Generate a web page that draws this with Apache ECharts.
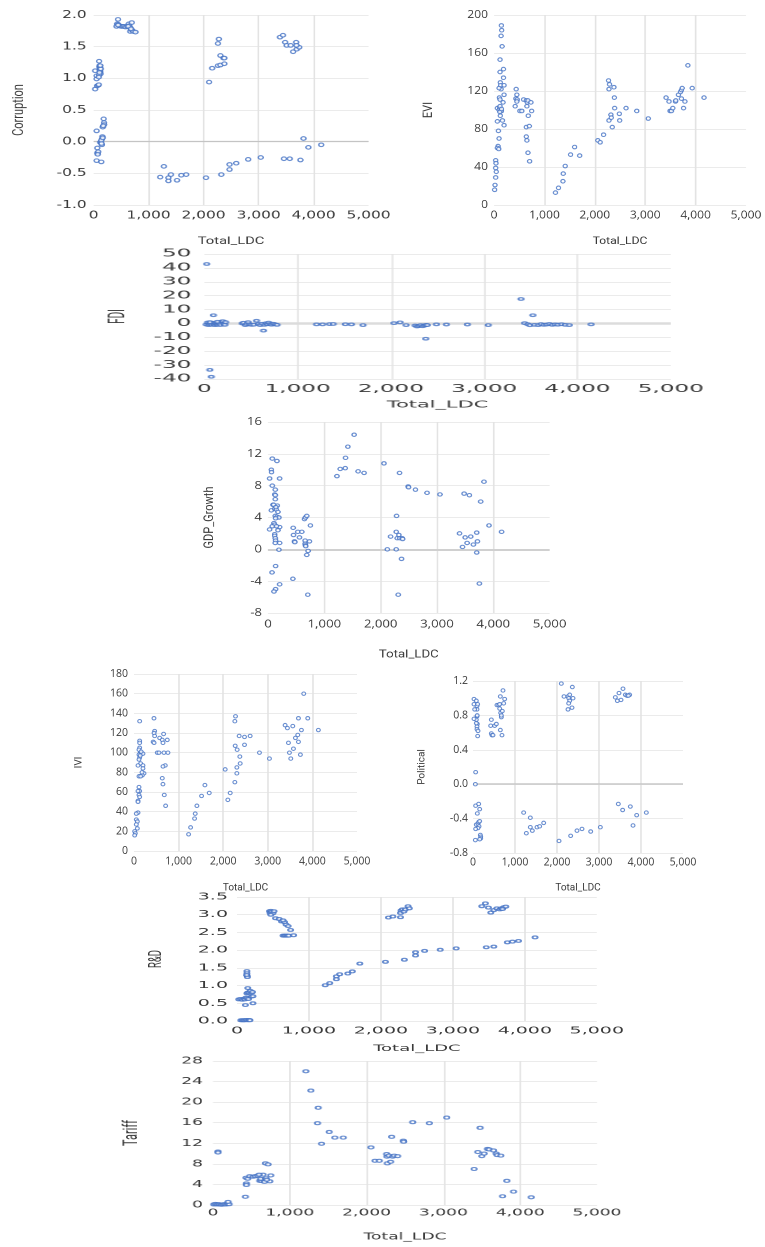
<!DOCTYPE html>
<html><head><meta charset="utf-8">
<script src="https://cdn.jsdelivr.net/npm/echarts@6/dist/echarts.min.js"></script>
<style>
html,body{margin:0;padding:0;background:#fff;width:765px;height:1247px;overflow:hidden;position:relative}
.panel{position:absolute;transform-origin:0 0}
</style></head><body>
<script>
// ---------- data: [Total_LDC, value] ----------
const corruptionData = [
[28,1.12],[28,0.83],[55,0.99],[55,1.04],[62,0.88],[83,0.89],[95,0.9],[100,1.27],[105,1.18],[110,1.15],[115,1.13],[120,1.1],[108,1.2],[125,1.07],[112,1.12],[118,1.16],[100,1.05],[130,1.15],[122,1.2],[106,1.09],[95,1.02],
[55,0.17],[183,0.36],[167,0.23],[190,0.3],[192,0.27],[160,0.08],[150,0.04],[120,-0.01],[150,-0.05],[135,-0.02],[140,0.02],[67,-0.1],[67,-0.18],[83,-0.16],[75,-0.2],[55,-0.3],[140,-0.32],[165,0.06],[175,0.25],[145,-0.03],
[444,1.93],[428,1.86],[417,1.82],[450,1.85],[470,1.83],[500,1.82],[528,1.82],[555,1.82],[580,1.81],[611,1.82],[639,1.86],[650,1.83],[694,1.88],[667,1.8],[667,1.74],[700,1.76],[722,1.74],[761,1.73],[630,1.82],[680,1.78],[445,1.84],
[2100,0.94],[2156,1.16],[2261,1.2],[2306,1.21],[2378,1.23],[2306,1.36],[2361,1.32],[2378,1.32],[2261,1.55],[2278,1.62],
[3389,1.65],[3444,1.68],[3483,1.57],[3511,1.52],[3583,1.52],[3628,1.42],[3683,1.57],[3694,1.46],[3739,1.49],[3690,1.52],
[1211,-0.56],[1278,-0.39],[1361,-0.57],[1361,-0.62],[1406,-0.52],[1517,-0.61],[1594,-0.53],[1683,-0.52],[2044,-0.57],[2322,-0.52],[2472,-0.36],[2472,-0.44],[2594,-0.34],[2811,-0.28],[3039,-0.25],[3461,-0.27],[3567,-0.27],[3761,-0.29],[3817,0.05],[3906,-0.09],[4139,-0.05]
];
const eviData = [
[147,189],[153,184],[140,178],[160,167],[120,153],[120,140],[187,143],[187,134],[125,129],[130,126],[140,122],[100,123],[200,126],[200,116],[105,113],[120,111],[180,108],[67,102],[110,102],[100,100],[130,99],[150,99],[115,98],[125,94],[167,89],[200,84],[67,88],[87,78],[100,70],[80,62],[67,60],[95,59],[33,47],[40,44],[33,39],[45,35],[33,29],[20,21],[13,16],[120,104],[150,101],
[440,122],[453,116],[433,112],[460,111],[453,109],[420,104],[513,99],[553,99],[587,111],[640,110],[660,108],[673,110],[733,108],[653,104],[747,99],[680,94],[640,82],[700,83],[640,72],[653,68],[673,55],[707,46],
[1220,13],[1280,18],[1367,25],[1373,33],[1413,41],[1520,53],[1600,61],[1700,52],
[2060,68],[2107,66],[2173,74],[2273,131],[2293,127],[2280,122],[2380,124],[2387,113],[2393,102],[2280,89],[2320,95],[2327,92],[2347,82],[2487,96],[2493,89],[2620,102],[2833,99],[3060,91],
[3413,113],[3473,109],[3493,99],[3520,99],[3547,102],[3600,109],[3607,110],[3660,116],[3700,119],[3720,121],[3733,123],[3720,112],[3760,102],[3787,109],[3847,147],[3933,123],[4167,113]
];
const fdiData = [
[26,42.8],[59,-33.4],[75,-38.4],[98,5.9],
[20,-0.8],[35,0.7],[45,-1.2],[55,-0.5],[65,0.3],[80,-1],[90,0.5],[105,-0.6],[115,-1.2],[125,0.2],[135,-0.7],[145,-1],[155,0.4],[165,-0.3],[175,-1.1],[190,1.5],[200,1.6],[210,-0.4],[220,-1],[228,0.9],[60,0.9],[140,1.2],
[407,0],[420,0.5],[440,-1.2],[455,-0.4],[470,0.9],[485,-0.6],[505,-1],[530,-0.9],[560,1.9],[580,-0.4],[600,-1.2],[620,-0.2],[634,-5.2],[645,-1],[660,0.1],[675,-0.6],[690,0.6],[705,-0.4],[720,-0.9],[740,-0.2],[760,-0.7],[780,-1],
[1203,-0.7],[1268,-0.7],[1343,-0.5],[1382,-0.4],[1512,-0.6],[1577,-0.7],[1701,-1.2],
[2033,0.2],[2098,0.8],[2163,-1.2],[2260,-1.5],[2280,-2.2],[2300,-1.8],[2320,-1.2],[2340,-2],[2360,-1.5],[2378,-1],[2374,-11],[2390,-1.2],[2488,-0.7],[2595,-0.8],[2820,-0.8],[3044,-1.2],
[3395,17.6],[3434,0.2],[3467,-0.6],[3490,-1.3],[3522,5.9],[3540,-1],[3580,-1.2],[3610,-0.5],[3640,-1],[3670,-0.8],[3700,-0.4],[3730,-1],[3760,-0.7],[3790,-0.9],[3830,-0.6],[3870,-1],[3912,-1.2],[4146,-0.7]
];
const gdpData = [
[76,11.4],[159,11.1],[59,10.0],[62,9.7],[29,8.9],[206,8.9],[76,8.0],[129,7.5],[118,6.9],[130,6.8],[129,6.3],[88,5.6],[165,5.5],[59,4.9],[118,5.1],[147,5.0],[176,4.7],[129,4.2],[159,4.1],[194,4.0],[135,3.9],[106,3.3],[118,3.1],[76,2.9],[206,2.8],[29,2.5],[176,2.4],[118,1.9],[118,1.7],[129,1.4],[135,1.1],[129,0.8],[206,0.8],[194,-0.05],[135,-2.1],[71,-2.9],[135,-5.0],[106,-5.3],[206,-4.4],[100,5.6],[140,5.3],[150,2.9],
[447,2.7],[453,1.8],[470,1.0],[476,0.9],[529,2.2],[600,2.2],[559,1.5],[659,1.1],[659,0.7],[665,0.5],[670,0.4],[647,3.8],[665,4.0],[688,4.2],[712,-0.2],[688,-0.7],[753,3.0],[735,1.0],[441,-3.7],[706,-5.7],
[1224,9.2],[1282,10.1],[1371,10.2],[1376,11.5],[1418,12.9],[1529,14.4],[1600,9.8],[1706,9.6],[2059,10.8],[2335,9.6],[2282,4.2],[2276,2.2],[2176,1.6],[2118,0.0],[2276,0.0],[2294,1.4],[2324,1.8],[2340,1.4],[2382,1.4],[2390,1.3],[2371,-1.2],[2312,-5.7],[2488,7.9],[2495,7.8],[2618,7.5],[2824,7.1],[3053,6.9],
[3400,2.0],[3453,0.3],[3482,7.0],[3500,1.5],[3535,0.8],[3576,6.8],[3600,1.6],[3647,0.6],[3706,2.1],[3706,-0.4],[3718,1.0],[3776,6.0],[3753,-4.3],[3835,8.5],[3924,3.0],[4147,2.2]
];
const iviData = [
[127,132],[127,112],[127,110],[127,105],[112,103],[142,100],[164,99],[201,99],[112,98],[127,95],[112,93],[149,89],[90,87],[201,87],[201,84],[224,79],[187,77],[112,76],[149,76],[112,65],[127,61],[90,61],[112,57],[127,55],[90,51],[90,50],[90,39],[52,38],[52,32],[75,30],[52,27],[75,23],[15,20],[30,18],[15,16],[160,101],[180,80],[140,97],
[448,135],[463,122],[450,120],[463,117],[430,111],[450,110],[575,115],[634,113],[650,110],[664,119],[746,113],[522,100],[560,100],[672,100],[761,100],[701,87],[650,86],[634,74],[649,68],[679,57],[709,46],
[1224,17],[1269,24],[1358,33],[1373,38],[1410,46],[1515,56],[1590,67],[1687,59],[2045,83],[2104,52],[2157,59],[2261,70],[2269,107],[2261,132],[2276,137],[2313,103],[2306,85],[2306,79],[2358,117],[2373,96],[2381,89],[2478,116],[2478,108],[2604,117],[2813,100],[3037,94],
[3388,128],[3440,125],[3463,110],[3485,100],[3515,94],[3560,127],[3575,104],[3619,115],[3672,118],[3687,135],[3687,111],[3731,98],[3754,123],[3806,160],[3896,135],[4134,123]
];
const politicalData = [
[24,0.99],[24,0.93],[79,0.97],[95,0.91],[95,0.87],[40,0.87],[95,0.79],[79,0.75],[24,0.76],[103,0.70],[95,0.67],[95,0.64],[119,0.62],[111,0.56],[79,0.71],[63,0.14],[56,0.0],[63,-0.25],[135,-0.23],[159,-0.29],[103,-0.34],[79,-0.47],[119,-0.46],[135,-0.44],[143,-0.49],[119,-0.51],[63,-0.52],[175,-0.59],[183,-0.61],[183,-0.63],[159,-0.64],[56,-0.65],[159,-0.43],[100,0.8],[110,0.93],
[437,0.75],[421,0.68],[437,0.59],[452,0.57],[476,0.57],[516,0.68],[556,0.70],[571,0.92],[611,0.92],[635,0.93],[651,1.02],[635,0.88],[659,0.83],[675,0.78],[651,0.63],[690,0.57],[714,1.09],[754,0.99],[730,0.94],[698,0.85],[675,0.8],
[1206,-0.33],[1270,-0.57],[1365,-0.39],[1365,-0.5],[1413,-0.54],[1524,-0.5],[1587,-0.49],[1683,-0.45],[2048,-0.66],[2103,1.17],[2167,1.02],[2262,1.02],[2302,1.04],[2280,1.0],[2302,0.97],[2278,0.94],[2365,1.13],[2381,1.0],[2357,0.89],[2262,0.87],[2325,-0.6],[2476,-0.54],[2595,-0.52],[2802,-0.55],[3032,-0.5],
[3389,1.01],[3437,0.97],[3476,1.06],[3524,0.98],[3571,1.11],[3627,1.04],[3667,1.03],[3730,1.04],[3700,1.03],[3460,-0.23],[3563,-0.30],[3746,-0.26],[3810,-0.48],[3897,-0.36],[4127,-0.33]
];
const rdData = [
[54,0.02],[75,0.02],[95,0.02],[110,0.02],[130,0.03],[150,0.02],[170,0.03],[180,0.02],
[25,0.61],[50,0.62],[75,0.6],[100,0.63],[110,0.61],[125,0.66],[140,0.64],[160,0.62],[117,0.45],[222,0.5],[201,0.69],[222,0.7],[138,0.78],[150,0.8],[170,0.8],[201,0.8],[150,0.93],[138,1.41],[138,1.35],[140,1.28],[145,1.24],[135,1.3],[185,0.85],[215,0.82],
[452,3.1],[460,3.05],[470,3.11],[480,3.08],[500,3.04],[515,3.1],[470,3.0],[536,2.9],[586,2.88],[619,2.81],[661,2.79],[640,2.84],[682,2.72],[711,2.68],[745,2.57],[640,2.41],[660,2.41],[680,2.41],[700,2.41],[720,2.41],[787,2.42],
[1226,1.01],[1289,1.07],[1381,1.26],[1381,1.18],[1427,1.32],[1540,1.34],[1603,1.4],[1707,1.62],[2063,1.67],[2105,2.92],[2167,2.95],[2272,2.93],[2272,3.05],[2280,3.12],[2300,3.15],[2320,3.09],[2340,3.15],[2377,3.24],[2395,3.18],[2326,1.73],[2481,1.94],[2481,1.85],[2607,1.98],[2824,2.01],[3046,2.05],
[3402,3.24],[3452,3.32],[3494,3.2],[3527,3.06],[3569,3.13],[3611,3.18],[3653,3.15],[3674,3.18],[3707,3.21],[3736,3.23],[3690,3.16],[3464,2.08],[3569,2.1],[3757,2.22],[3828,2.24],[3912,2.26],[4142,2.36]
];
const tariffData = [
[10,0.1],[30,0.2],[50,0.1],[70,0.15],[90,0.1],[110,0.05],[130,0.1],[150,0.15],[170,0.1],[190,0.2],[210,0.15],[196,0.6],[65,10.4],[65,10.2],
[422,1.6],[435,4.2],[435,3.9],[430,5.3],[452,5.1],[478,5.6],[520,5.5],[550,5.6],[580,5.7],[609,4.7],[630,4.7],[650,5.0],[652,5.9],[670,4.5],[683,8.1],[717,7.9],[739,4.6],[752,5.75],[620,5.1],[600,5.9],[690,5.2],[700,4.9],
[1209,26],[1274,22.25],[1370,18.9],[1361,15.9],[1413,11.9],[1513,14.2],[1587,13.1],[1696,13.1],[2057,11.2],[2109,8.6],[2165,8.6],[2261,9.9],[2265,9.4],[2270,8.1],[2313,8.4],[2326,13.25],[2290,9.6],[2340,9.4],[2360,9.6],[2404,9.5],[2478,12.5],[2482,12.3],[2600,16.1],[2817,15.9],[3043,17.0],
[3400,7.0],[3448,10.3],[3478,15.0],[3500,9.5],[3530,10.0],[3574,10.9],[3595,10.8],[3652,10.6],[3687,10.0],[3700,9.7],[3748,9.6],[3770,1.7],[3826,4.7],[3913,2.6],[4143,1.5]
];

// ---------- axis settings ----------
const xMin = 0, xMax = 5000, xStep = 1000;
const xTitle = 'Total_LDC';

const BLUE = '#4472C4';
const TXT = '#3a3a3a';
const NARROW = "'Liberation Sans Narrow', 'Roboto', sans-serif";
const fmtX = v => v >= 1000 ? Math.floor(v/1000) + ',' + String(v % 1000).padStart(3, '0') : String(v);
const f1 = v => (Math.abs(v) < 1e-9 ? 0 : v).toFixed(1);
const f0 = v => String(Math.round(v));

const panels = [
 {name:'Corruption', data:corruptionData, yMin:-1, yMax:2, yStep:0.5, yFmt:f1, zero:{c:'#c4c4c4',w:1.2},
  box:{x:0,y:0,w:395,h:252}, sx:1.4, grid:{l:92,t:15,w:300,h:191},
  tickFont:'DejaVu Sans', tfs:11, yGap:7, xGap:5, yNameGap:67, xNameGap:31,
  nameFont:NARROW, nfs:11, xnFont:NARROW, xnfs:10.5, ms:[5,3.6]},
 {name:'EVI', data:eviData, yMin:0, yMax:200, yStep:40, yFmt:f0, zero:null,
  box:{x:380,y:0,w:385,h:252}, sx:1.15, grid:{l:494,t:15,w:252,h:190},
  tickFont:'Open Sans', tfs:10.5, yGap:6, xGap:5, yNameGap:59, xNameGap:31,
  nameFont:NARROW, nfs:11, xnFont:NARROW, xnfs:10.5, ms:[4.2,3.6]},
 {name:'FDI', data:fdiData, yMin:-40, yMax:50, yStep:10, yFmt:f0, zero:{c:'#dcdcdc',w:2.5},
  box:{x:90,y:240,w:620,h:175}, sx:2.2, grid:{l:178,t:254,w:512,h:128},
  tickFont:'DejaVu Sans', tfs:10.5, yGap:13, xGap:5, yNameGap:60, xNameGap:21,
  nameFont:NARROW, nfs:10, xnFont:'DejaVu Sans', xnfs:9.5, ms:[5,2.6]},
 {name:'GDP_Growth', data:gdpData, yMin:-8, yMax:16, yStep:4, yFmt:f0, zero:{c:'#d0d0d0',w:2},
  box:{x:180,y:410,w:390,h:255}, sx:1.2, grid:{l:268,t:422,w:284,h:197},
  tickFont:'Open Sans', tfs:11, yGap:6, xGap:6, yNameGap:52, xNameGap:36,
  nameFont:NARROW, nfs:11, xnFont:NARROW, xnfs:11, ms:[4.4,3.4]},
 {name:'IVI', data:iviData, yMin:0, yMax:180, yStep:20, yFmt:f0, zero:null,
  box:{x:0,y:665,w:380,h:235}, sx:1.0, grid:{l:134,t:674,w:223,h:177},
  tickFont:'Open Sans', tfs:10.5, yGap:6, xGap:5, yNameGap:50, xNameGap:32,
  nameFont:NARROW, nfs:10, xnFont:NARROW, xnfs:10, ms:[3.8,3.4]},
 {name:'Political', data:politicalData, yMin:-0.8, yMax:1.2, yStep:0.4, yFmt:f1, zero:{c:'#c8c8c8',w:1.5},
  box:{x:380,y:665,w:385,h:235}, sx:1.0, grid:{l:473,t:681,w:210,h:172},
  tickFont:'Open Sans', tfs:10.5, yGap:5, xGap:4, yNameGap:46, xNameGap:30,
  nameFont:NARROW, nfs:10, xnFont:NARROW, xnfs:10, ms:[3.8,3.4]},
 {name:'R&D', data:rdData, yMin:0, yMax:3.5, yStep:0.5, yFmt:f1, zero:null,
  box:{x:130,y:885,w:500,h:173}, sx:2.0, grid:{l:224,t:897,w:398,h:127},
  tickFont:'DejaVu Sans', tfs:9.5, yGap:9, xGap:5, yNameGap:71, xNameGap:23,
  nameFont:NARROW, nfs:9.5, xnFont:'DejaVu Sans', xnfs:9, ms:[5,2.8]},
 {name:'Tariff', data:tariffData, yMin:0, yMax:28, yStep:4, yFmt:f0, zero:null,
  box:{x:100,y:1050,w:540,h:197}, sx:1.8, grid:{l:213,t:1061,w:384,h:149},
  tickFont:'DejaVu Sans', tfs:9.5, yGap:10, xGap:3, yNameGap:71, xNameGap:27,
  nameFont:NARROW, nfs:11, xnFont:'DejaVu Sans', xnfs:9.5, ms:[5.3,3]}
];

panels.forEach(p => {
  const sx = p.sx;
  const div = document.createElement('div');
  div.className = 'panel';
  div.style.left = p.box.x + 'px';
  div.style.top = p.box.y + 'px';
  div.style.width = (p.box.w / sx) + 'px';
  div.style.height = p.box.h + 'px';
  div.style.transform = 'scale(' + sx + ',1)';
  document.body.appendChild(div);
  const chart = echarts.init(div, null, {renderer:'canvas', devicePixelRatio:2});
  const g = p.grid;
  const series = {
    type:'scatter', data:p.data, symbol:'circle',
    symbolSize:[p.ms[0]/sx, p.ms[1]],
    itemStyle:{color:'#ffffff', borderColor:BLUE, borderWidth:1.1},
    z:3
  };
  if (p.zero) {
    series.markLine = {
      silent:true, symbol:['none','none'], label:{show:false}, animation:false,
      lineStyle:{color:p.zero.c, width:p.zero.w, type:'solid'},
      data:[{yAxis:0}], z:1
    };
  }
  chart.setOption({
    animation:false,
    grid:{left:(g.l - p.box.x)/sx, top:g.t - p.box.y, width:g.w/sx, height:g.h},
    xAxis:{
      type:'value', min:xMin, max:xMax, interval:xStep,
      axisLine:{show:false}, axisTick:{show:false},
      axisLabel:{color:TXT, fontFamily:p.tickFont, fontSize:p.tfs, margin:p.xGap, formatter:fmtX},
      splitLine:{show:true, showMinLine:false, showMaxLine:false, lineStyle:{color:'#e3e3e3', width:1.6/sx}},
      name:xTitle, nameLocation:'middle', nameGap:p.xNameGap,
      nameTextStyle:{color:TXT, fontFamily:p.xnFont, fontSize:p.xnfs}
    },
    yAxis:{
      type:'value', min:p.yMin, max:p.yMax, interval:p.yStep,
      axisLine:{show:false}, axisTick:{show:false},
      axisLabel:{color:TXT, fontFamily:p.tickFont, fontSize:p.tfs, margin:p.yGap/sx, formatter:p.yFmt},
      splitLine:{show:true, lineStyle:{color:'#ebebeb', width:1}},
      name:p.name, nameLocation:'middle', nameGap:p.yNameGap/sx,
      nameTextStyle:{color:TXT, fontFamily:p.nameFont, fontSize:p.nfs}
    },
    series:[series]
  });
});
</script>
</body></html>
